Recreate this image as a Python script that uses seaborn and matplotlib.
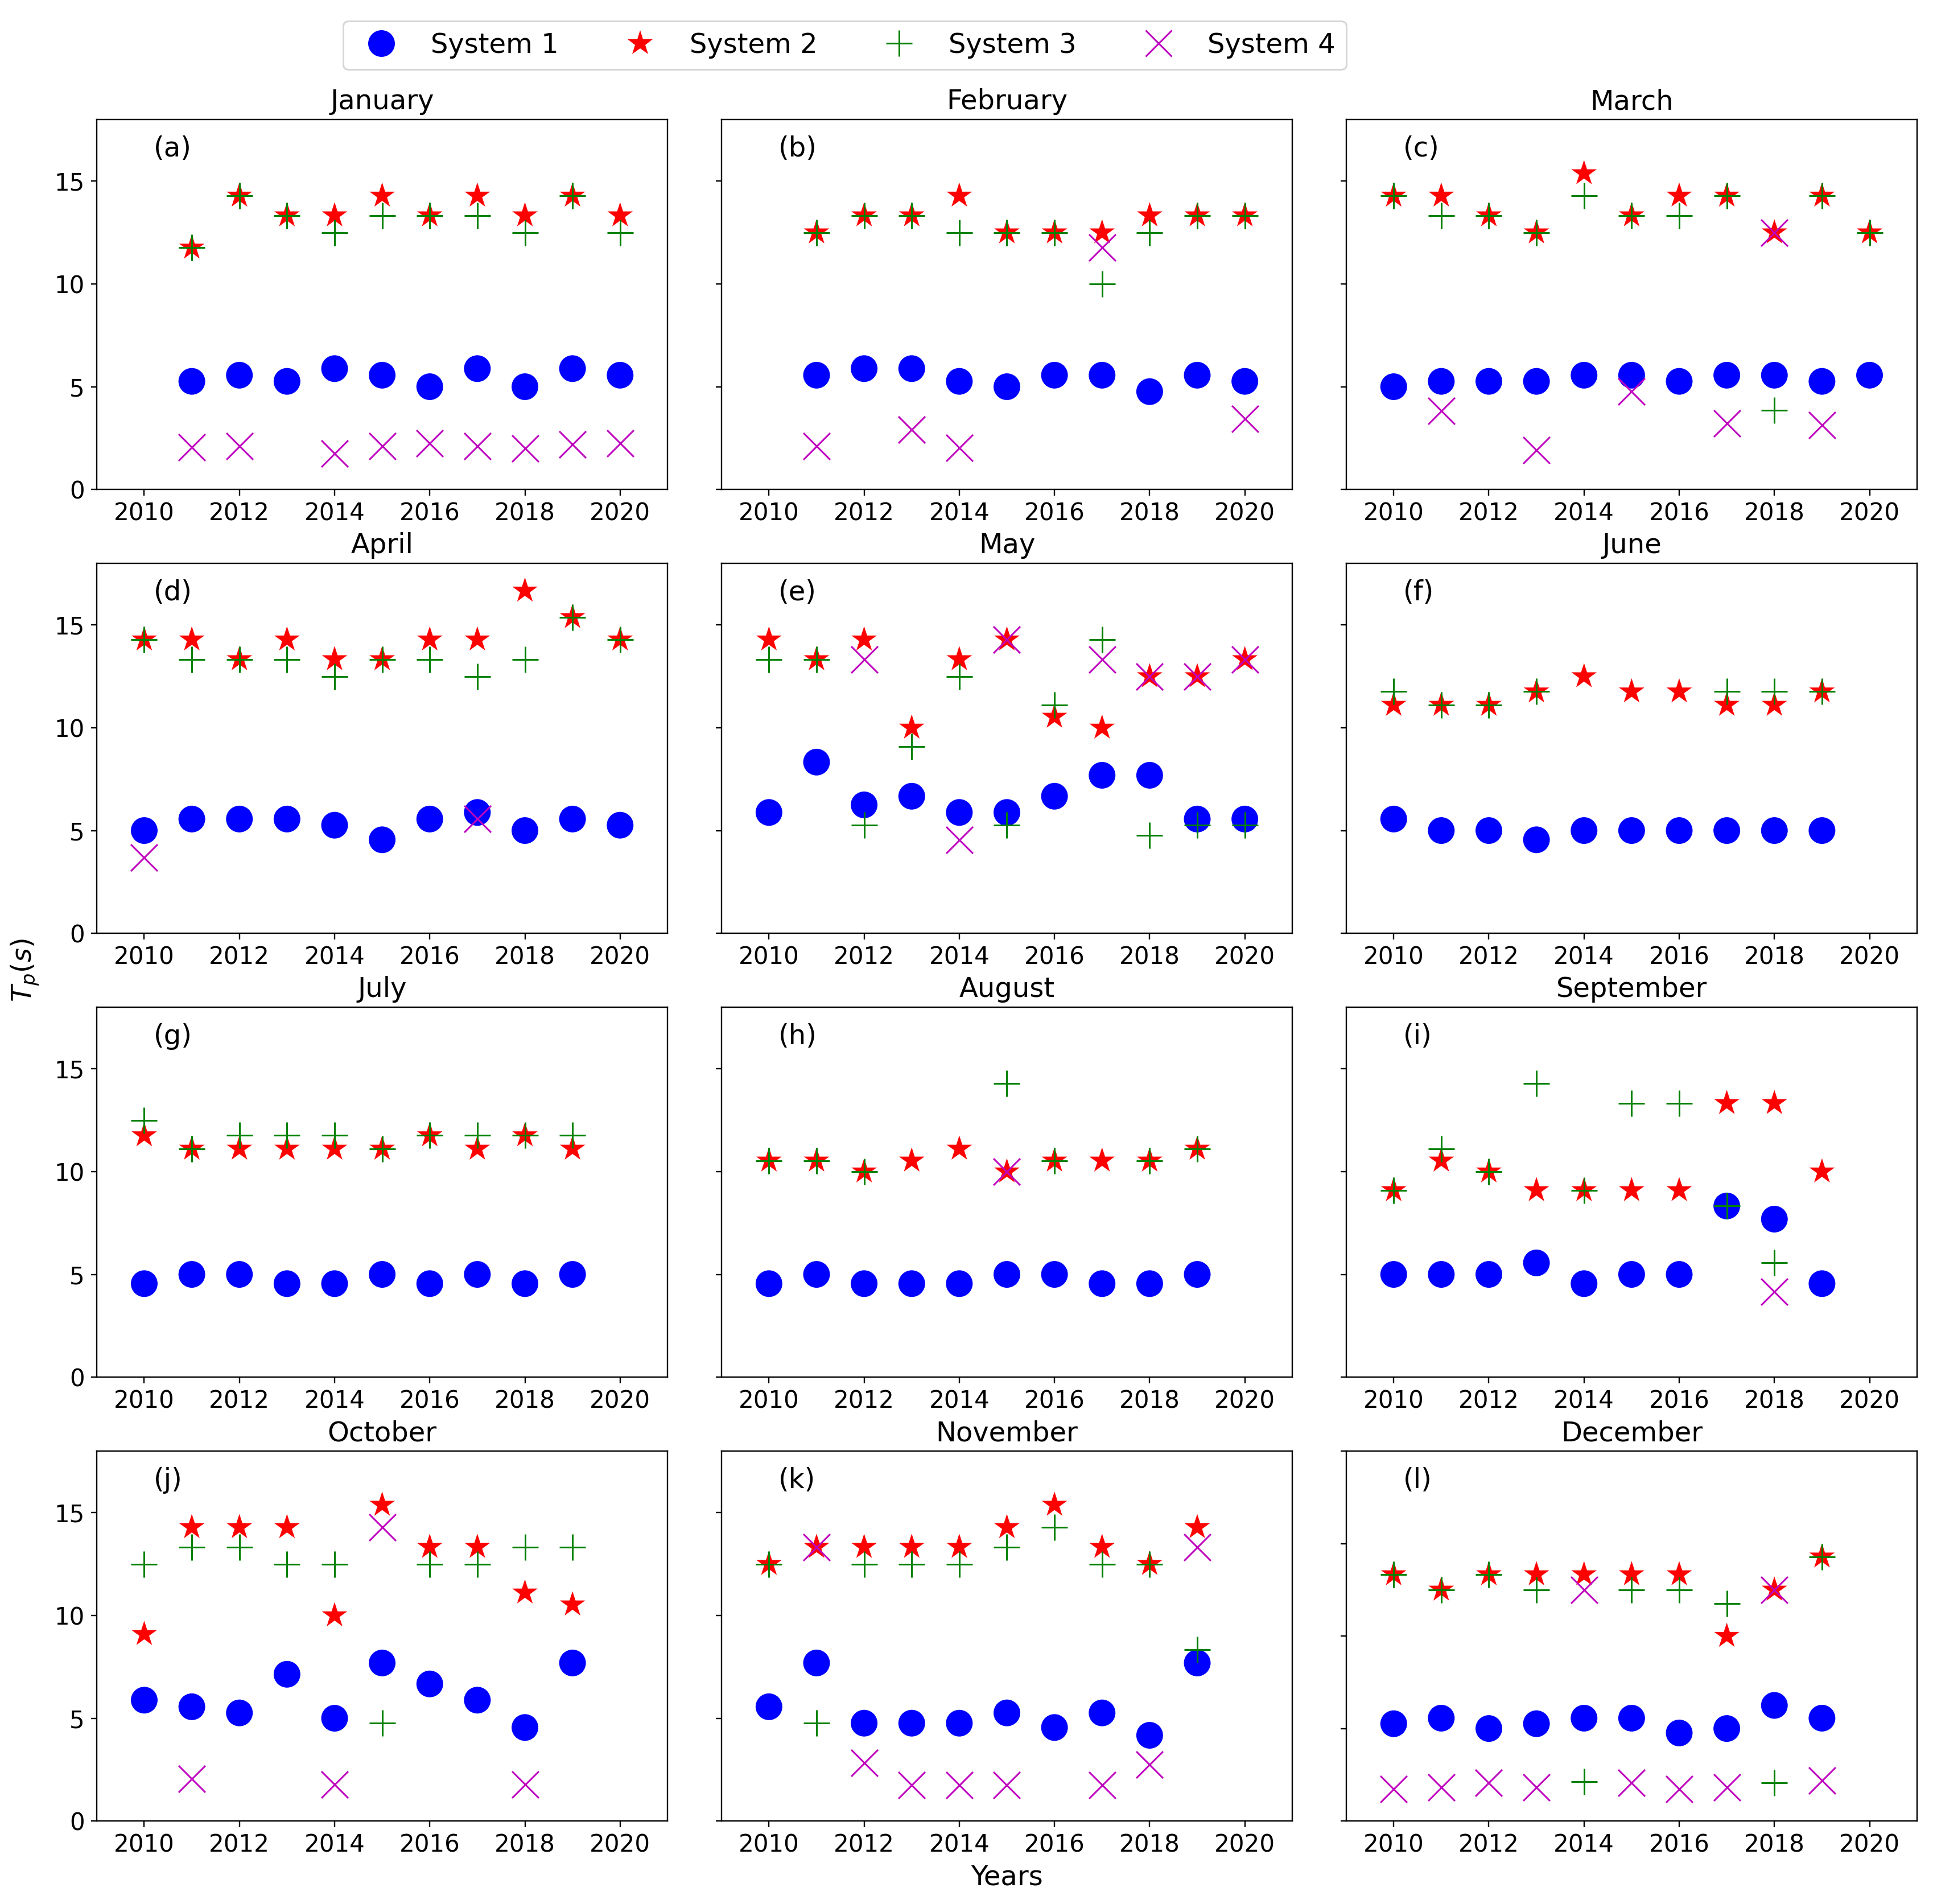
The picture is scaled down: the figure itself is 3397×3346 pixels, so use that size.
import numpy as np
import pandas as pd
import matplotlib
matplotlib.use("Agg")
import matplotlib.pyplot as plt
from matplotlib.lines import Line2D
import seaborn as sns

nan = np.nan

YEARS = [2010, 2011, 2012, 2013, 2014, 2015, 2016, 2017, 2018, 2019, 2020]
MONTHS = ["January", "February", "March", "April", "May", "June",
          "July", "August", "September", "October", "November", "December"]
PANEL_LABELS = ["(a)", "(b)", "(c)", "(d)", "(e)", "(f)",
                "(g)", "(h)", "(i)", "(j)", "(k)", "(l)"]
SYSTEM_NAMES = ["System 1", "System 2", "System 3", "System 4"]
Y_TOP = [18, 18, 18, 18, 18, 18, 18, 18, 18, 18, 18, 20]
X_TICKS = [2010, 2012, 2014, 2016, 2018, 2020]

# one row per month, one value per year (2010..2020)
SYSTEM1 = [
    [nan, 5.26, 5.56, 5.26, 5.88, 5.56, 5.00, 5.88, 5.00, 5.88, 5.56],
    [nan, 5.56, 5.88, 5.88, 5.26, 5.00, 5.56, 5.56, 4.76, 5.56, 5.26],
    [5.00, 5.26, 5.26, 5.26, 5.56, 5.56, 5.26, 5.56, 5.56, 5.26, 5.56],
    [5.00, 5.56, 5.56, 5.56, 5.26, 4.55, 5.56, 5.88, 5.00, 5.56, 5.26],
    [5.88, 8.33, 6.25, 6.67, 5.88, 5.88, 6.67, 7.69, 7.69, 5.56, 5.56],
    [5.56, 5.00, 5.00, 4.55, 5.00, 5.00, 5.00, 5.00, 5.00, 5.00, nan],
    [4.55, 5.00, 5.00, 4.55, 4.55, 5.00, 4.55, 5.00, 4.55, 5.00, nan],
    [4.55, 5.00, 4.55, 4.55, 4.55, 5.00, 5.00, 4.55, 4.55, 5.00, nan],
    [5.00, 5.00, 5.00, 5.56, 4.55, 5.00, 5.00, 8.33, 7.69, 4.55, nan],
    [5.88, 5.56, 5.26, 7.14, 5.00, 7.69, 6.67, 5.88, 4.55, 7.69, nan],
    [5.56, 7.69, 4.76, 4.76, 4.76, 5.26, 4.55, 5.26, 4.17, 7.69, nan],
    [5.26, 5.56, 5.00, 5.26, 5.56, 5.56, 4.76, 5.00, 6.25, 5.56, nan],
]
SYSTEM2 = [
    [nan, 11.76, 14.29, 13.33, 13.33, 14.29, 13.33, 14.29, 13.33, 14.29, 13.33],
    [nan, 12.50, 13.33, 13.33, 14.29, 12.50, 12.50, 12.50, 13.33, 13.33, 13.33],
    [14.29, 14.29, 13.33, 12.50, 15.38, 13.33, 14.29, 14.29, 12.50, 14.29, 12.50],
    [14.29, 14.29, 13.33, 14.29, 13.33, 13.33, 14.29, 14.29, 16.67, 15.38, 14.29],
    [14.29, 13.33, 14.29, 10.00, 13.33, 14.29, 10.53, 10.00, 12.50, 12.50, 13.33],
    [11.11, 11.11, 11.11, 11.76, 12.50, 11.76, 11.76, 11.11, 11.11, 11.76, nan],
    [11.76, 11.11, 11.11, 11.11, 11.11, 11.11, 11.76, 11.11, 11.76, 11.11, nan],
    [10.53, 10.53, 10.00, 10.53, 11.11, 10.00, 10.53, 10.53, 10.53, 11.11, nan],
    [9.09, 10.53, 10.00, 9.09, 9.09, 9.09, 9.09, 13.33, 13.33, 10.00, nan],
    [9.09, 14.29, 14.29, 14.29, 10.00, 15.38, 13.33, 13.33, 11.11, 10.53, nan],
    [12.50, 13.33, 13.33, 13.33, 13.33, 14.29, 15.38, 13.33, 12.50, 14.29, nan],
    [13.33, 12.50, 13.33, 13.33, 13.33, 13.33, 13.33, 10.00, 12.50, 14.29, nan],
]
SYSTEM3 = [
    [nan, 11.76, 14.29, 13.33, 12.50, 13.33, 13.33, 13.33, 12.50, 14.29, 12.50],
    [nan, 12.50, 13.33, 13.33, 12.50, 12.50, 12.50, 10.00, 12.50, 13.33, 13.33],
    [14.29, 13.33, 13.33, 12.50, 14.29, 13.33, 13.33, 14.29, 3.85, 14.29, 12.50],
    [14.29, 13.33, 13.33, 13.33, 12.50, 13.33, 13.33, 12.50, 13.33, 15.38, 14.29],
    [13.33, 13.33, 5.26, 9.09, 12.50, 5.26, 11.11, 14.29, 4.76, 5.26, 5.26],
    [11.76, 11.11, 11.11, 11.76, nan, nan, nan, 11.76, 11.76, 11.76, nan],
    [12.50, 11.11, 11.76, 11.76, 11.76, 11.11, 11.76, 11.76, 11.76, 11.76, nan],
    [10.53, 10.53, 10.00, nan, nan, 14.29, 10.53, nan, 10.53, 11.11, nan],
    [9.09, 11.11, 10.00, 14.29, 9.09, 13.33, 13.33, 8.33, 5.56, nan, nan],
    [12.50, 13.33, 13.33, 12.50, 12.50, 4.76, 12.50, 12.50, 13.33, 13.33, nan],
    [12.50, 4.76, 12.50, 12.50, 12.50, 13.33, 14.29, 12.50, 12.50, 8.33, nan],
    [13.33, 12.50, 13.33, 12.50, 2.13, 12.50, 12.50, 11.76, 2.06, 14.29, nan],
]
SYSTEM4 = [
    [nan, 2.04, 2.10, nan, 1.76, 2.10, 2.25, 2.10, 2.00, 2.20, 2.25],
    [nan, 2.10, nan, 2.91, 2.02, nan, nan, 11.76, nan, nan, 3.44],
    [nan, 3.83, nan, 1.92, nan, 4.76, nan, 3.21, 12.50, 3.12, nan],
    [3.70, nan, nan, nan, nan, nan, nan, 5.56, nan, nan, nan],
    [nan, nan, 13.33, nan, 4.55, 14.29, nan, 13.33, 12.50, 12.50, 13.33],
    [nan, nan, nan, nan, nan, nan, nan, nan, nan, nan, nan],
    [nan, nan, nan, nan, nan, nan, nan, nan, nan, nan, nan],
    [nan, nan, nan, nan, nan, 10.00, nan, nan, nan, nan, nan],
    [nan, nan, nan, nan, nan, nan, nan, nan, 4.17, nan, nan],
    [nan, 2.06, nan, nan, 1.78, 14.29, nan, nan, 1.78, nan, nan],
    [nan, 13.33, 2.84, 1.76, 1.76, 1.76, nan, 1.76, 2.75, 13.33, nan],
    [1.73, 1.81, 2.06, 1.81, 12.50, 2.06, 1.73, 1.81, 12.50, 2.18, nan],
]

rows = []
for name, table in zip(SYSTEM_NAMES, [SYSTEM1, SYSTEM2, SYSTEM3, SYSTEM4]):
    for month, vals in zip(MONTHS, table):
        for yr, v in zip(YEARS, vals):
            rows.append({"system": name, "month": month, "year": yr, "Tp": v})
df = pd.DataFrame(rows)

MARKER_S = 245
STYLES = {
    "System 1": dict(marker="o", color="blue", edgecolor="none"),
    "System 2": dict(marker="*", color="red", edgecolor="none"),
    "System 3": dict(marker="+", color="green", linewidth=1.0),
    "System 4": dict(marker="x", color="m", linewidth=1.0),
}

DPI = 216
fig, axes = plt.subplots(4, 3, figsize=(3397 / DPI, 3346 / DPI), dpi=DPI)
fig.subplots_adjust(left=0.050, right=0.9918, top=0.9372, bottom=0.0436,
                    wspace=0.094, hspace=0.2)

for i, (ax, month) in enumerate(zip(axes.flat, MONTHS)):
    sub = df[df["month"] == month]
    for name in SYSTEM_NAMES:
        d = sub[sub["system"] == name].dropna(subset=["Tp"])
        if len(d) == 0:
            continue
        sns.scatterplot(data=d, x="year", y="Tp", ax=ax, s=MARKER_S, label=name,
                        legend=False, **STYLES[name])
    ax.set_xlim(2009, 2021)
    ax.set_ylim(0, Y_TOP[i])
    ax.set_xticks(X_TICKS)
    ax.set_yticks(np.arange(0, Y_TOP[i] + 1, 5))
    ax.tick_params(axis="both", labelsize=14)
    if i % 3 != 0:
        ax.tick_params(axis="y", labelleft=False)
    ax.set_xlabel("")
    ax.set_ylabel("")
    ax.set_title(month, fontsize=16)
    ax.text(0.1, 0.9, PANEL_LABELS[i], transform=ax.transAxes, fontsize=16)

axes[3, 1].set_xlabel("Years", fontsize=16)
fig.text(0.013, 0.4904, r"$T_p(s)$", rotation=90, va="center", ha="center", fontsize=16)

ms = np.sqrt(MARKER_S)
handles = []
for name in SYSTEM_NAMES:
    st = STYLES[name]
    filled = st["marker"] in ("o", "*")
    handles.append(Line2D([], [], linestyle="none", marker=st["marker"],
                          color=st["color"], markersize=ms,
                          markeredgewidth=0 if filled else 1.0,
                          label=name))
fig.legend(handles=handles, loc="upper center", bbox_to_anchor=(0.437, 0.989),
           ncol=4, fontsize=16, borderaxespad=0)

fig.savefig("out.png", dpi=DPI)
